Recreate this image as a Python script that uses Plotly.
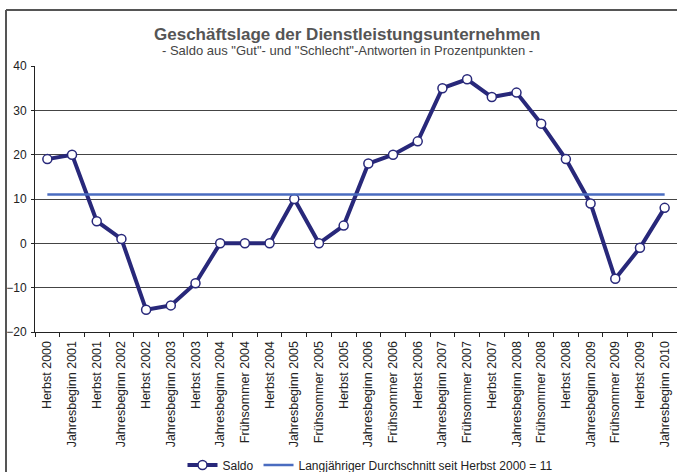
import plotly.graph_objects as go

categories = ["Herbst 2000", "Jahresbeginn 2001", "Herbst 2001", "Jahresbeginn 2002",
              "Herbst 2002", "Jahresbeginn 2003", "Herbst 2003", "Jahresbeginn 2004",
              "Frühsommer 2004", "Herbst 2004", "Jahresbeginn 2005", "Frühsommer 2005",
              "Herbst 2005", "Jahresbeginn 2006", "Frühsommer 2006", "Herbst 2006",
              "Jahresbeginn 2007", "Frühsommer 2007", "Herbst 2007", "Jahresbeginn 2008",
              "Frühsommer 2008", "Herbst 2008", "Jahresbeginn 2009", "Frühsommer 2009",
              "Herbst 2009", "Jahresbeginn 2010"]
saldo = [19, 20, 5, 1, -15, -14, -9, 0, 0, 0, 10, 0, 4, 18, 20, 23, 35, 37, 33, 34,
         27, 19, 9, -8, -1, 8]
average_value = 11
y_ticks = [-20, -10, 0, 10, 20, 30, 40]

FONT = "Liberation Sans, Arial, sans-serif"

fig = go.Figure()
fig.add_trace(go.Scatter(
    x=categories, y=saldo, mode="lines+markers", name="Saldo",
    line=dict(color="#28287A", width=4),
    marker=dict(symbol="circle", size=9, color="white",
                line=dict(color="#28287A", width=1.5)),
))
fig.add_trace(go.Scatter(
    x=categories, y=[average_value] * len(categories), mode="lines",
    name="Langjähriger Durchschnitt seit Herbst 2000 = 11",
    line=dict(color="#4A6CC0", width=2.5),
))

fig.update_layout(
    width=677, height=472,
    margin=dict(l=35, r=0, t=66, b=140, autoexpand=False),
    paper_bgcolor="white", plot_bgcolor="white",
    font=dict(family=FONT, size=12, color="#222"),
    showlegend=True,
    legend=dict(orientation="h", x=(370 - 35) / 642, xanchor="center",
                y=-(465 - 332) / 266, yanchor="middle",
                font=dict(size=12, color="#222"), itemwidth=30, tracegroupgap=0),
    annotations=[
        dict(text="<b>Geschäftslage der Dienstleistungsunternehmen</b>",
             xref="paper", yref="paper", x=(347 - 35) / 642, y=1 + (66 - 35) / 266,
             xanchor="center", yanchor="middle", showarrow=False,
             font=dict(size=17, color="#555", family=FONT)),
        dict(text='- Saldo aus "Gut"- und "Schlecht"-Antworten in Prozentpunkten -',
             xref="paper", yref="paper", x=(347 - 35) / 642, y=1 + (66 - 51) / 266,
             xanchor="center", yanchor="middle", showarrow=False,
             font=dict(size=13, color="#444", family=FONT)),
    ],
    shapes=[
        dict(type="line", xref="paper", yref="paper",
             x0=(6 - 35) / 642, x1=(6 - 35) / 642, y0=1 + (66 - 10) / 266, y1=-1,
             line=dict(color="#555", width=2)),
        dict(type="line", xref="paper", yref="paper",
             x0=(6 - 35) / 642, x1=1.1, y0=1 + (66 - 10) / 266, y1=1 + (66 - 10) / 266,
             line=dict(color="#555", width=2)),
    ],
)

fig.update_xaxes(
    type="category", tickangle=-90, tickfont=dict(size=12.5, color="#222"),
    showline=True, linecolor="#222", linewidth=1, automargin=False,
    ticks="outside", ticklen=4, tickcolor="#222", tickson="boundaries",
    ticklabelstandoff=3,
    showgrid=False, range=[-0.5, len(categories) - 0.5],
)
fig.update_yaxes(
    range=[-20, 40], tickvals=y_ticks, tickfont=dict(size=12, color="#222"),
    showline=True, linecolor="#222", linewidth=1, automargin=False,
    ticks="outside", ticklen=3, tickcolor="#222", ticklabelstandoff=2,
    showgrid=True, gridcolor="#444", gridwidth=1, zeroline=False,
)

fig.write_html("out.html", config={"displayModeBar": False},
               post_script="document.body.style.margin='0';document.body.style.overflow='hidden';")
